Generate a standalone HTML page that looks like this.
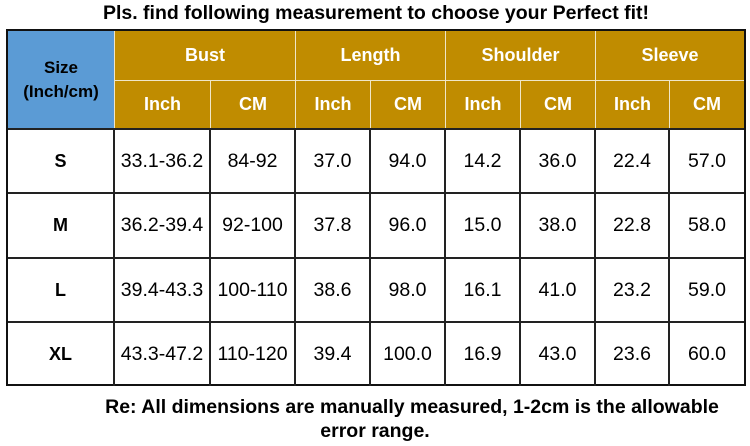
<!DOCTYPE html>
<html><head><style>
body{margin:0;width:750px;height:446px;background:#fff;position:relative;overflow:hidden;font-family:"Liberation Sans",Arial,sans-serif;}
.t{position:absolute;left:0;width:750px;text-align:center;font-weight:bold;font-size:19.5px;color:#000;white-space:nowrap;}
.c{position:absolute;display:flex;align-items:center;justify-content:center;box-sizing:border-box;text-align:center;}
.h{background:#c08c00;color:#fff;font-weight:bold;font-size:18px;border-right:1px solid #f0e6c8;border-bottom:1px solid #f0e6c8;}
.d{font-size:19.5px;color:#000;border-right:2px solid #222;border-bottom:2px solid #222;}
.s{font-weight:bold;font-size:18px;}
</style></head><body>
<div class="t" style="top:2px;left:1px">Pls. find following measurement to choose your Perfect fit!</div>
<div style="position:absolute;left:6px;top:29px;width:740px;height:357px;border:2px solid #111;box-sizing:border-box"></div>
<div class="c" style="left:8px;top:31px;width:107px;height:98px;background:#5b9bd5;font-weight:bold;font-size:17px;line-height:24px;border-right:1px solid #f0e6c8">Size<br>(Inch/cm)</div>
<div class="c h" style="left:115px;top:31px;width:181px;height:50px">Bust</div>
<div class="c h" style="left:296px;top:31px;width:150px;height:50px">Length</div>
<div class="c h" style="left:446px;top:31px;width:150px;height:50px">Shoulder</div>
<div class="c h" style="left:596px;top:31px;width:148px;height:50px;border-right:none">Sleeve</div>
<div class="c h" style="left:115px;top:81px;width:96px;height:48px">Inch</div>
<div class="c h" style="left:211px;top:81px;width:85px;height:48px">CM</div>
<div class="c h" style="left:296px;top:81px;width:75px;height:48px">Inch</div>
<div class="c h" style="left:371px;top:81px;width:75px;height:48px">CM</div>
<div class="c h" style="left:446px;top:81px;width:75px;height:48px">Inch</div>
<div class="c h" style="left:521px;top:81px;width:75px;height:48px">CM</div>
<div class="c h" style="left:596px;top:81px;width:74px;height:48px">Inch</div>
<div class="c h" style="left:670px;top:81px;width:74px;height:48px;border-right:none">CM</div>
<div style="position:absolute;left:8px;top:128px;width:736px;height:2px;background:#222"></div>
<div id="rows"></div>
<script>
var xs=[8,115,211,296,371,446,521,596,670,744];
var ys=[130,194,259,323,386];
var data=[["S","33.1-36.2","84-92","37.0","94.0","14.2","36.0","22.4","57.0"],
["M","36.2-39.4","92-100","37.8","96.0","15.0","38.0","22.8","58.0"],
["L","39.4-43.3","100-110","38.6","98.0","16.1","41.0","23.2","59.0"],
["XL","43.3-47.2","110-120","39.4","100.0","16.9","43.0","23.6","60.0"]];
var h="";
for(var r=0;r<4;r++)for(var c=0;c<9;c++){
var st="left:"+xs[c]+"px;top:"+ys[r]+"px;width:"+(xs[c+1]-xs[c])+"px;height:"+(ys[r+1]-ys[r])+"px;";
if(c==8)st+="border-right:none;";if(r==3)st+="border-bottom:none;";
h+='<div class="c d'+(c==0?' s':'')+'" style="'+st+'">'+data[r][c]+'</div>';}
document.getElementById("rows").innerHTML=h;
</script>
<div class="t" style="top:396px;left:37px">Re: All dimensions are manually measured, 1-2cm is the allowable</div>
<div class="t" style="top:420px;left:0px">error range.</div>
</body></html>
